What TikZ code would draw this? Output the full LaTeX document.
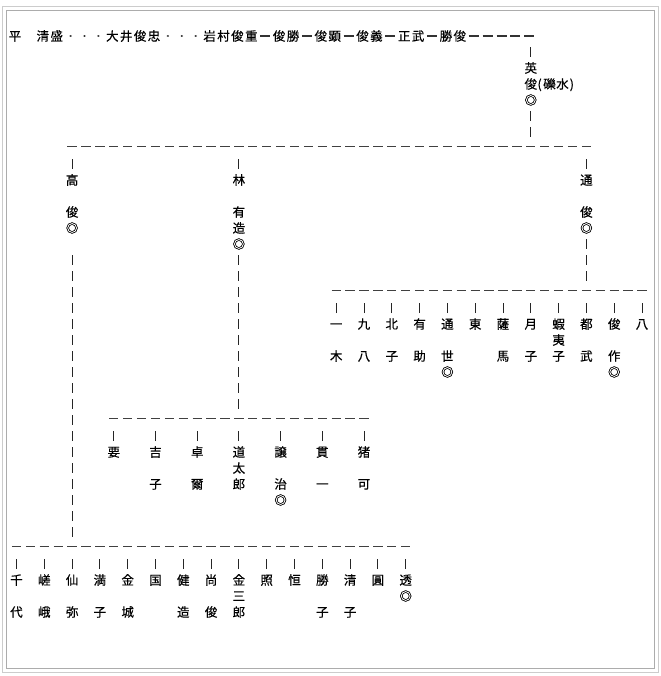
\documentclass[tikz,border=0pt]{standalone}
\usepackage{fontspec}
\newfontfamily\jp[FakeBold=0.4]{Noto Sans CJK JP}
\usetikzlibrary{calc}
\newcommand\cjkc[1]{\makebox[13.9pt]{#1}}
\newcommand\pa[1]{#1\strut}
\newcommand\pb[2]{#1\strut\\\strut\\#2\strut}
\newcommand\pc[3]{#1\strut\\#2\strut\\#3\strut}
\begin{document}
\begin{tikzpicture}[x=1pt,y=-1pt,
  declare function={colx(\n)=16.5+13.9*\n; rowy(\n)=29.55+16*\n; dashy(\n)=34.7+16*\n;},
  tl/.style={inner sep=0pt, outer sep=0pt, anchor=center, text height=12.75pt, text depth=3.25pt, font=\jp\fontsize{12.5}{16}\selectfont},
  nm/.style={inner sep=0pt, outer sep=0pt, anchor=north, align=center, font=\jp\fontsize{12.5}{16}\selectfont},
  hgrid/.style={draw=black!75, line width=1.2pt, dash pattern=on 9.3pt off 4.6pt},
  tdash/.style={draw=black!80, line width=1.1pt, shorten <=1.95pt, shorten >=1.95pt},
  dotc/.style={draw=black!80, line width=2.6pt, line cap=round, dash pattern=on 0.01pt off 13.89pt, shorten <=6.95pt},
  up/.style={draw=black!85, line width=1pt, shorten <=4.55pt, shorten >=12.3pt},
  vrun/.style={draw=black!85, line width=1pt, dash pattern=on 10pt off 6pt, shorten >=9.7pt}]
\useasboundingbox (0,0) rectangle (660,676);
% frame
\draw[gray!40, line width=1pt] (2,7) rectangle (658,672);
\draw[gray!65, line width=1pt] (6,10.5) rectangle (654.5,668.5);

% ---- top line ----
\node[tl] (hei) at (15,36) {\cjkc{平}};
\node[tl] (kiyomori) at (49.75,36) {\cjkc{清}\cjkc{盛}};
\node[tl] (ooi) at (133.15,36) {\cjkc{大}\cjkc{井}\cjkc{俊}\cjkc{忠}};
\node[tl] (iwamura) at (230.45,36) {\cjkc{岩}\cjkc{村}\cjkc{俊}\cjkc{重}};
\node[tl] (tkatsu) at (286.05,36) {\cjkc{俊}\cjkc{勝}};
\node[tl] (taki) at (327.75,36) {\cjkc{俊}\cjkc{顕}};
\node[tl] (tyoshi) at (369.45,36) {\cjkc{俊}\cjkc{義}};
\node[tl] (masatake) at (411.15,36) {\cjkc{正}\cjkc{武}};
\node[tl] (katsutoshi) at (452.85,36) {\cjkc{勝}\cjkc{俊}};
\coordinate (tail) at (536.25,36);

\draw[dotc] (kiyomori.east) -- (ooi.west);
\draw[dotc] (ooi.east) -- (iwamura.west);
\draw[tdash] (iwamura.east) -- (tkatsu.west);
\draw[tdash] (tkatsu.east) -- (taki.west);
\draw[tdash] (taki.east) -- (tyoshi.west);
\draw[tdash] (tyoshi.east) -- (masatake.west);
\draw[tdash] (masatake.east) -- (katsutoshi.west);
\draw[tdash, dash pattern=on 10pt off 3.9pt] (katsutoshi.east) -- (tail);

% ---- 英俊 ----
\node[nm] (ei) at ({colx(37)},{rowy(2)}) {\pc{英}{俊}{◎}};
\node[tl, anchor=west] (reki) at (537.5,84) {(\kern1.5pt 礫\kern0.5pt 水\kern1pt)};
\draw[up, shorten >=11pt] (ei.north) -- (ei.north |- tail);

% dashed line row 7
\coordinate (d7s) at ({colx(4)-4.65},{dashy(7)});
\coordinate (d7e) at ({colx(41)+4.65},{dashy(7)});
\draw[hgrid] (d7s) -- (d7e);
\draw[vrun, shorten <=1.45pt] (ei.south) -- (ei.south |- d7s);

% ---- generation: 高俊, 林有造, 通俊 ----
\node[nm] (gao) at ({colx(4)},{rowy(9)}) {\pb{高}{俊}\\\pa{◎}};
\node[nm] (hayashi) at ({colx(16)},{rowy(9)}) {\pb{林}{有}\\\pa{造}\\\pa{◎}};
\node[nm] (tsu) at ({colx(41)},{rowy(9)}) {\pb{通}{俊}\\\pa{◎}};
\foreach \k in {gao,hayashi,tsu} \draw[up] (\k.north) -- (\k.north |- d7s);

% dashed line rows 16, 24, 32
\coordinate (d16s) at ({colx(23)-4.65},{dashy(16)});
\coordinate (d16e) at ({colx(45)+4.65},{dashy(16)});
\coordinate (d24s) at ({colx(7)-4.65},{dashy(24)});
\coordinate (d24e) at ({colx(25)+4.65},{dashy(24)});
\coordinate (d32s) at ({colx(0)-4.65},{dashy(32)});
\coordinate (d32e) at ({colx(28)+4.65},{dashy(32)});
\draw[hgrid] (d16s) -- (d16e);
\draw[hgrid] (d24s) -- (d24e);
\draw[hgrid] (d32s) -- (d32e);

\draw[vrun, shorten <=1.45pt] (tsu.south) -- (tsu.south |- d16s);
\draw[vrun, shorten <=1.45pt] (hayashi.south) -- (hayashi.south |- d24s);
\draw[vrun, shorten <=17.45pt] (gao.south) -- (gao.south |- d32s);

% ---- children of 通俊 ----
\node[nm] (a23) at ({colx(23)},{rowy(18)}) {\pb{一}{木}};
\node[nm] (a25) at ({colx(25)},{rowy(18)}) {\pb{九}{八}};
\node[nm] (a27) at ({colx(27)},{rowy(18)}) {\pb{北}{子}};
\node[nm] (a29) at ({colx(29)},{rowy(18)}) {\pb{有}{助}};
\node[nm] (a31) at ({colx(31)},{rowy(18)}) {\pb{通}{世}\\\pa{◎}};
\node[nm] (a33) at ({colx(33)},{rowy(18)}) {\pa{東}};
\node[nm] (a35) at ({colx(35)},{rowy(18)}) {\pb{薩}{馬}};
\node[nm] (a37) at ({colx(37)},{rowy(18)}) {\pb{月}{子}};
\node[nm] (a39) at ({colx(39)},{rowy(18)}) {\pc{蝦}{夷}{子}};
\node[nm] (a41) at ({colx(41)},{rowy(18)}) {\pb{都}{武}};
\node[nm] (a43) at ({colx(43)},{rowy(18)}) {\pb{俊}{作}\\\pa{◎}};
\node[nm] (a45) at ({colx(45)},{rowy(18)}) {\pa{八}};
\foreach \k in {a23,a25,a27,a29,a31,a33,a35,a37,a39,a41,a43,a45}
  \draw[up] (\k.north) -- (\k.north |- d16s);

% ---- children of 林有造 ----
\node[nm] (b7) at ({colx(7)},{rowy(26)}) {\pa{要}};
\node[nm] (b10) at ({colx(10)},{rowy(26)}) {\pb{吉}{子}};
\node[nm] (b13) at ({colx(13)},{rowy(26)}) {\pb{卓}{爾}};
\node[nm] (b16) at ({colx(16)},{rowy(26)}) {\pc{道}{太}{郎}};
\node[nm] (b19) at ({colx(19)},{rowy(26)}) {\pb{譲}{治}\\\pa{◎}};
\node[nm] (b22) at ({colx(22)},{rowy(26)}) {\pb{貫}{一}};
\node[nm] (b25) at ({colx(25)},{rowy(26)}) {\pb{猪}{可}};
\foreach \k in {b7,b10,b13,b16,b19,b22,b25}
  \draw[up] (\k.north) -- (\k.north |- d24s);

% ---- children of 高俊 ----
\node[nm] (e0) at ({colx(0)},{rowy(34)}) {\pb{千}{代}};
\node[nm] (e2) at ({colx(2)},{rowy(34)}) {\pb{嵯}{峨}};
\node[nm] (e4) at ({colx(4)},{rowy(34)}) {\pb{仙}{弥}};
\node[nm] (e6) at ({colx(6)},{rowy(34)}) {\pb{満}{子}};
\node[nm] (e8) at ({colx(8)},{rowy(34)}) {\pb{金}{城}};
\node[nm] (e10) at ({colx(10)},{rowy(34)}) {\pa{国}};
\node[nm] (e12) at ({colx(12)},{rowy(34)}) {\pb{健}{造}};
\node[nm] (e14) at ({colx(14)},{rowy(34)}) {\pb{尚}{俊}};
\node[nm] (e16) at ({colx(16)},{rowy(34)}) {\pc{金}{三}{郎}};
\node[nm] (e18) at ({colx(18)},{rowy(34)}) {\pa{照}};
\node[nm] (e20) at ({colx(20)},{rowy(34)}) {\pa{恒}};
\node[nm] (e22) at ({colx(22)},{rowy(34)}) {\pb{勝}{子}};
\node[nm] (e24) at ({colx(24)},{rowy(34)}) {\pb{清}{子}};
\node[nm] (e26) at ({colx(26)},{rowy(34)}) {\pa{圓}};
\node[nm] (e28) at ({colx(28)},{rowy(34)}) {\pa{透}\\\pa{◎}};
\foreach \k in {e0,e2,e4,e6,e8,e10,e12,e14,e16,e18,e20,e22,e24,e26,e28}
  \draw[up] (\k.north) -- (\k.north |- d32s);
\end{tikzpicture}
\end{document}
